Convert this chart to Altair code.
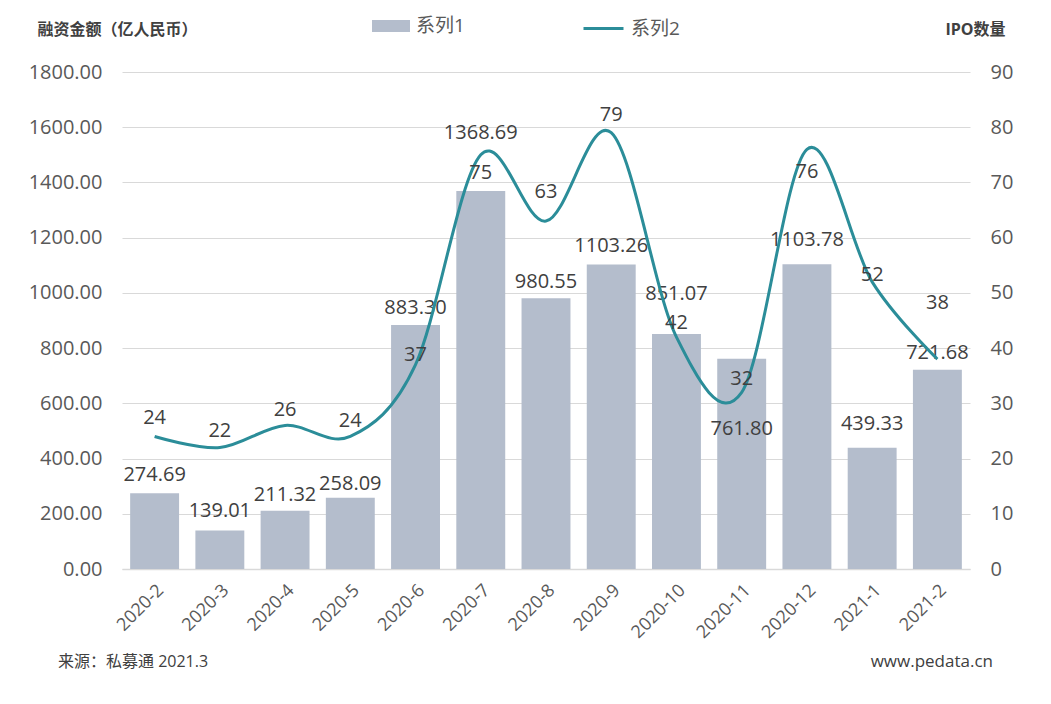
import altair as alt
import pandas as pd

months = ["2020-2", "2020-3", "2020-4", "2020-5", "2020-6", "2020-7", "2020-8",
          "2020-9", "2020-10", "2020-11", "2020-12", "2021-1", "2021-2"]
amount = [274.69, 139.01, 211.32, 258.09, 883.30, 1368.69, 980.55,
          1103.26, 851.07, 761.80, 1103.78, 439.33, 721.68]
ipo = [24, 22, 26, 24, 37, 75, 63, 79, 42, 32, 76, 52, 38]

# label placement offsets (pixels, negative = upwards), as in the source chart
bar_label_dy = [-18, -20, -16, -14, -17, -58, -16, -18, -40, 70, -24, -24, -17]
line_label_dy = [-18, -17, -15, -15, -10, 18, -29, -18, -14, -13, 23, -7, -56]

PLOT_W, PLOT_H = 848, 497
FONT = "'Open Sans', 'Noto Sans CJK SC', sans-serif"
BAR_COLOR = "#b4bdcc"
LINE_COLOR = "#2b8d99"
TEXT_COLOR = "#404040"

df = pd.DataFrame({
    "month": months, "amount": amount, "ipo": ipo,
    "bar_dy": bar_label_dy, "line_dy": line_label_dy,
    "s1": ["系列1"] * len(months), "s2": ["系列2"] * len(months),
})

band = alt.Scale(paddingInner=0.25, paddingOuter=0.125)
left_scale = alt.Scale(domain=[0, 1800], nice=False, zero=True)
right_scale = alt.Scale(domain=[0, 90], nice=False, zero=True)

base = alt.Chart(df)

bars = base.mark_bar().encode(
    x=alt.X("month:N", sort=months, title=None, scale=band,
            axis=alt.Axis(labelAngle=-45, labelAlign="right", labelBaseline="top",
                          labelFontSize=18, labelColor="#595959", labelPadding=12,
                          ticks=False, domain=True, domainColor="#d9d9d9",
                          domainWidth=1.5, grid=False, labelFont=FONT, title=None)),
    y=alt.Y("amount:Q", scale=left_scale,
            axis=alt.Axis(orient="left", values=list(range(0, 1801, 200)), format=".2f",
                          labelFontSize=20, labelColor="#595959", labelPadding=20,
                          ticks=False, domain=False, grid=True, gridColor="#d9d9d9",
                          gridWidth=1, labelFont=FONT,
                          title="融资金额（亿人民币）", titleAngle=0, titleX=-85, titleY=-43,
                          titleAlign="left", titleBaseline="middle", titleFontSize=16,
                          titleFontWeight="bold", titleColor=TEXT_COLOR, titleFont=FONT)),
    color=alt.Color("s1:N", scale=alt.Scale(domain=["系列1"], range=[BAR_COLOR]),
                    legend=alt.Legend(title=None, orient="none", legendX=250, legendY=-65,
                                      symbolType="M-1,-0.32H1V0.32H-1Z", symbolSize=1444,
                                      symbolStrokeWidth=0, labelFontSize=19,
                                      labelColor="#595959", labelFont=FONT, labelOffset=6)),
)

bar_text = base.transform_calculate(
    label_y=f"datum.amount - datum.bar_dy * 1800 / {PLOT_H}"
).mark_text(fontSize=20, color=TEXT_COLOR, baseline="middle", font=FONT).encode(
    x=alt.X("month:N", sort=months, scale=band),
    y=alt.Y("label_y:Q", scale=left_scale),
    text=alt.Text("amount:Q", format=".2f"),
)

line = base.mark_line(interpolate="cardinal", strokeWidth=3).encode(
    x=alt.X("month:N", sort=months, scale=band),
    y=alt.Y("ipo:Q", scale=right_scale,
            axis=alt.Axis(orient="right", values=list(range(0, 91, 10)),
                          labelFontSize=20, labelColor="#595959", labelPadding=20,
                          ticks=False, domain=False, grid=False, labelFont=FONT,
                          title="IPO数量", titleAngle=0, titleX=35, titleY=-43,
                          titleAlign="right", titleBaseline="middle", titleFontSize=16,
                          titleFontWeight="bold", titleColor=TEXT_COLOR, titleFont=FONT)),
    stroke=alt.Stroke("s2:N", scale=alt.Scale(domain=["系列2"], range=[LINE_COLOR]),
                      legend=alt.Legend(title=None, orient="none", legendX=460, legendY=-65,
                                        symbolType="stroke", symbolSize=1600,
                                        symbolStrokeWidth=3, labelFontSize=19,
                                        labelColor="#595959", labelFont=FONT, labelOffset=6)),
)

line_text = base.transform_calculate(
    label_y=f"datum.ipo - datum.line_dy * 90 / {PLOT_H}"
).mark_text(fontSize=20, color=TEXT_COLOR, baseline="middle", font=FONT).encode(
    x=alt.X("month:N", sort=months, scale=band),
    y=alt.Y("label_y:Q", scale=right_scale),
    text=alt.Text("ipo:Q"),
)

footer_left = alt.Chart(pd.DataFrame({"t": ["来源：私募通 2021.3"]})).mark_text(
    align="left", baseline="middle", fontSize=16, color=TEXT_COLOR, font=FONT
).encode(text="t:N", x=alt.value(-64), y=alt.value(590))

footer_right = alt.Chart(pd.DataFrame({"t": ["www.pedata.cn"]})).mark_text(
    align="right", baseline="middle", fontSize=17, color=TEXT_COLOR, font=FONT
).encode(text="t:N", x=alt.value(871), y=alt.value(590))

left_layer = alt.layer(bars, bar_text)
right_layer = alt.layer(line, line_text)

chart = alt.layer(left_layer, right_layer, footer_left, footer_right).resolve_scale(
    y="independent"
).properties(
    width=PLOT_W, height=PLOT_H,
    autosize=alt.AutoSizeParams(type="none"),
    padding={"left": 114, "top": 64, "right": 73, "bottom": 127},
    background="white",
).configure(font=FONT).configure_view(stroke=None)

chart.save("out.html", embed_options={"renderer": "svg", "actions": False})
